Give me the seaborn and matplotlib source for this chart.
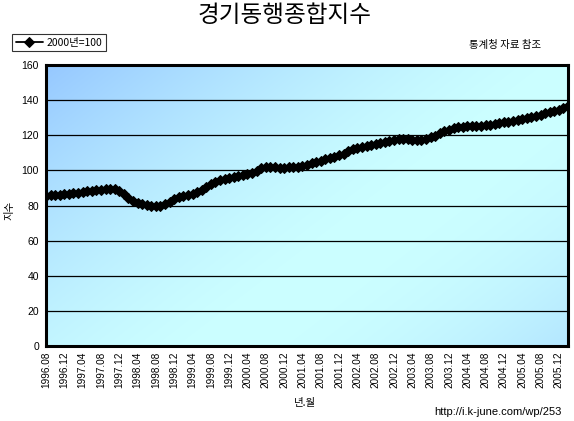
import numpy as np
import pandas as pd
import matplotlib
matplotlib.use("Agg")
import matplotlib.pyplot as plt
import seaborn as sns

sns.set_style("white")
plt.rcParams['font.family'] = ['Noto Sans CJK KR', 'DejaVu Sans']
plt.rcParams['axes.unicode_minus'] = False
plt.rcParams['text.color'] = 'black'
plt.rcParams['xtick.color'] = 'black'
plt.rcParams['ytick.color'] = 'black'
plt.rcParams['axes.labelcolor'] = 'black'

# 월별 경기동행종합지수 (2000년=100), 1996.08 ~ 2006.02
months = []
for y in range(1996, 2007):
    for m in range(1, 13):
        if (y == 1996 and m < 8) or (y == 2006 and m > 2):
            continue
        months.append(f"{y}.{m:02d}")

values = [
    85.5, 85.8, 86.0, 86.2, 86.4,                                              # 1996.08-12
    86.8, 87.0, 87.3, 87.6, 88.0, 88.3, 88.7, 89.0, 89.3, 89.5, 89.2, 88.5,    # 1997
    86.8, 84.5, 82.5, 81.3, 80.8, 80.4, 79.8, 79.5, 79.7, 80.6, 82.0, 83.6,    # 1998
    84.8, 85.4, 86.0, 86.8, 87.8, 89.0, 90.8, 92.5, 93.6, 94.4, 95.1, 95.8,    # 1999
    96.4, 97.0, 97.6, 98.1, 98.6, 99.6, 101.2, 101.7, 101.8, 101.7, 101.6, 101.6,  # 2000
    101.8, 101.9, 102.2, 102.6, 103.3, 104.0, 104.8, 105.6, 106.3, 107.0, 107.8, 108.5,  # 2001
    109.6, 110.8, 112.0, 112.8, 113.4, 113.9, 114.4, 114.9, 115.5, 116.1, 116.8, 117.3,  # 2002
    117.7, 117.9, 117.8, 117.5, 117.3, 117.5, 118.0, 118.8, 119.8, 121.0, 122.3, 123.2,  # 2003
    123.9, 124.5, 124.8, 125.0, 125.1, 125.2, 125.4, 125.7, 126.0, 126.4, 126.9, 127.3,  # 2004
    127.6, 128.0, 128.6, 129.3, 129.9, 130.5, 131.1, 131.8, 132.4, 133.1, 133.8, 134.6,  # 2005
    135.6, 136.8,                                                              # 2006.01-02
]
tick_labels = months[::4]
y_ticks = [0, 20, 40, 60, 80, 100, 120, 140, 160]

df = pd.DataFrame({'idx': range(len(values)), '지수': values})

W, H = 574, 421
fig = plt.figure(figsize=(W / 100, H / 100), dpi=100)
fig.patch.set_facecolor('white')
ax = fig.add_axes([46 / W, 1 - 346 / H, (568 - 46) / W, (346 - 65) / H])

# 배경 그라데이션 (좌상단 파랑 -> 가운데 하늘색 -> 우하단 약간 파랑)
gw, gh = 522, 281
xx, yy = np.meshgrid(np.arange(gw), np.arange(gh))
t = (xx + 1.3 * yy) / (gw + 1.3 * gh)
f = np.where(t < 0.6, ((0.6 - t) / 0.6) ** 1.5, 0.45 * ((t - 0.6) / 0.4) ** 2)
dark = np.array([150, 200, 255]) / 255
light = np.array([204, 255, 255]) / 255
img = light[None, None, :] + (dark - light)[None, None, :] * f[..., None]
ax.imshow(img, extent=[0, 1, 0, 1], transform=ax.transAxes, aspect='auto', zorder=0)

for yv in y_ticks[1:-1]:
    ax.axhline(yv, color='black', lw=0.9, zorder=1)

sns.lineplot(data=df, x='idx', y='지수', ax=ax, color='black', lw=1.3,
             marker='D', markersize=4.6, markeredgecolor='black',
             label='2000년=100', zorder=3)

ax.set_xlim(0, len(values) - 1)
ax.set_ylim(0, 160)
ax.set_yticks(y_ticks)
ax.set_yticklabels([str(v) for v in y_ticks], fontsize=7.5, family=['Liberation Sans', 'DejaVu Sans'])
ax.set_xticks(range(0, len(values), 4))
ax.set_xticks(range(len(values)), minor=True)
ax.set_xticklabels(tick_labels, rotation=90, fontsize=7.2, family=['Liberation Sans', 'DejaVu Sans'])
ax.tick_params(axis='y', length=0, pad=5)
ax.tick_params(axis='x', which='both', direction='in', length=2, width=0.6, color='black', pad=4)
ax.set_xlabel('')
ax.set_ylabel('')
for s in ax.spines.values():
    s.set_visible(True)
    s.set_color('black')
    s.set_linewidth(2.2)

leg = ax.legend(loc='upper left', bbox_to_anchor=(12 / W, 1 - 34 / H),
                bbox_transform=fig.transFigure, frameon=True, fancybox=False,
                edgecolor='black', fontsize=7.5, borderpad=0.35, handlelength=2.6,
                handletextpad=0.4, borderaxespad=0)
leg.get_frame().set_linewidth(0.8)

fig.text(285 / W, 1 - 15 / H, '경기동행종합지수', ha='center', va='center', fontsize=17)
fig.text(505 / W, 1 - 45 / H, '통계청 자료 참조', ha='center', va='center', fontsize=7.5)
fig.text(9 / W, 1 - 210 / H, '지수', ha='center', va='center', rotation=90, fontsize=7.5)
fig.text(305 / W, 1 - 403 / H, '년.월', ha='center', va='center', fontsize=7.5)
fig.text(562 / W, 1 - 412 / H, 'http://i.k-june.com/wp/253', ha='right', va='center',
         fontsize=8, family=['Liberation Sans', 'DejaVu Sans'])

fig.savefig('out.png', dpi=100)
